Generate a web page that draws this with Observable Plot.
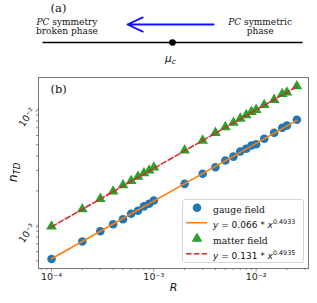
<!DOCTYPE html>
<html><head><meta charset="utf-8">
<script src="https://cdn.jsdelivr.net/npm/d3@7"></script>
<script src="https://cdn.jsdelivr.net/npm/@observablehq/plot@0.6"></script>
<style>
body{margin:0;background:#fff;width:317px;height:303px;overflow:hidden}
#wrap{position:relative;width:317px;height:303px}
#wrap svg{display:block}
#legend{position:absolute;left:182px;top:199px;width:122px;height:64px;border:1px solid #d6d6d6;border-radius:3px;background:rgba(255,255,255,0.85);box-sizing:border-box;padding-top:0px}
.row{position:relative;height:15.4px;display:flex;align-items:center}
.row svg{position:absolute;left:2px;top:0}
.row .lab{position:absolute;left:30px;top:1px;white-space:nowrap;line-height:14px}
.serif{font-family:"DejaVu Serif";font-size:9.2px;color:#111}
.math{font-family:"DejaVu Sans";font-size:9px;color:#111}
.math i{font-style:italic}
.math sup{font-size:6.4px;vertical-align:4px;line-height:0}
</style></head><body><div id="wrap"></div>
<script>
// ---------- data ----------
const gaugeR  = [1e-4,2e-4,3e-4,4e-4,5e-4,6e-4,7e-4,8e-4,9e-4,1e-3,2e-3,3e-3,4e-3,5e-3,6e-3,7e-3,8e-3,9e-3,1e-2,1.2e-2,1.5e-2,1.8e-2,2e-2,2.5e-2];
const gaugeN  = [5.18e-4,7.32e-4,8.98e-4,1.03e-3,1.14e-3,1.27e-3,1.35e-3,1.47e-3,1.55e-3,1.65e-3,2.30e-3,2.81e-3,3.20e-3,3.65e-3,3.95e-3,4.37e-3,4.61e-3,4.92e-3,5.05e-3,5.62e-3,6.33e-3,7.0e-3,7.32e-3,8.2e-3];
const matterR = [1e-4,2e-4,3e-4,4e-4,5e-4,6e-4,7e-4,8e-4,9e-4,1e-3,2e-3,3e-3,4e-3,5e-3,6e-3,7e-3,8e-3,9e-3,1e-2,1.2e-2,1.5e-2,1.8e-2,2e-2,2.5e-2];
const matterN = [9.86e-4,1.39e-3,1.71e-3,1.98e-3,2.24e-3,2.44e-3,2.65e-3,2.84e-3,3.00e-3,3.18e-3,4.46e-3,5.43e-3,6.33e-3,7.1e-3,7.73e-3,8.4e-3,9.0e-3,9.6e-3,1.0e-2,1.10e-2,1.22e-2,1.37e-2,1.41e-2,1.6e-2];
const gaugeFitR  = [1e-4, 2.5e-2];
const gaugeFitN  = [5.2e-4, 8.1e-3];
const matterFitR = [1e-4, 2.5e-2];
const matterFitN = [9.8e-4, 1.58e-2];
const xMajorTicks = [1e-4, 1e-3, 1e-2];
const xTickLabels = ["10⁻⁴", "10⁻³", "10⁻²"];
const yMajorTicks = [1e-3, 1e-2];
const yTickLabels = ["10⁻³", "10⁻²"];
const seriesNames = ["gauge field", "matter field"];
const fitCoef = ["0.066", "0.131"];
const fitExp = ["0.4933", "0.4935"];
const phaseLeft = "PC symmetry\nbroken phase";
const phaseRight = "PC symmetric\nphase";
const panelLabels = ["(a)", "(b)"];

const C = {blue:"#1f77b4", orange:"#ff7f0e", green:"#2ca02c", red:"#d62728"};
const gauge = gaugeR.map((r,i)=>({r, n:gaugeN[i]}));
const matter = matterR.map((r,i)=>({r, n:matterN[i]}));
const gaugeFit = gaugeFitR.map((r,i)=>({r, n:gaugeFitN[i]}));
const matterFit = matterFitR.map((r,i)=>({r, n:matterFitN[i]}));

function minorTicks(domain){
  const out=[]; const lo=Math.floor(Math.log10(domain[0])), hi=Math.ceil(Math.log10(domain[1]));
  for(let e=lo;e<hi;e++) for(let m=2;m<=9;m++){const v=m*Math.pow(10,e); if(v>=domain[0]&&v<=domain[1]) out.push(v);}
  return out;
}

const wrap = document.getElementById("wrap");

// ---------- panel (a) ----------
const serif = "DejaVu Serif";
const plotA = Plot.plot({
  width: 317, height: 70,
  marginLeft: 42, marginRight: 15, marginTop: 0, marginBottom: 0,
  x: {domain: [0, 1], axis: null},
  y: {domain: [0, 1], axis: null},
  style: {background: "white"},
  marks: [
    Plot.link([0], {x1: 0, x2: 1, y1: 0.4, y2: 0.4, stroke: "black", strokeWidth: 1.5}),
    Plot.dot([0.5], {x: d => d, y: 0.4, r: 3.3, fill: "black"}),
    Plot.arrow([0], {x1: 0.658, x2: 0.327, y1: 0.657, y2: 0.657, stroke: "#1010ff", strokeWidth: 1.8, headLength: 14, headAngle: 50}),
    Plot.text([phaseLeft], {x: 0.094, y: 0.63, text: d => d, fontFamily: serif, fontSize: 9, lineHeight: 1.05, fill: "#111"}),
    Plot.text([phaseRight], {x: 0.837, y: 0.63, text: d => d, fontFamily: serif, fontSize: 9, lineHeight: 1.05, fill: "#111"}),
    Plot.text([panelLabels[0]], {x: 0.031, y: 0.886, text: d => d, textAnchor: "start", fontFamily: serif, fontSize: 11.5, fill: "#111"}),
    Plot.text(["μ"], {x: 0.5, y: 0.171, text: d => d, fontFamily: "DejaVu Sans", fontStyle: "italic", fontSize: 10.5, dx: -2, fill: "#111"})
  ]
});
wrap.appendChild(plotA);

// rich text in panel (a)
d3.select(plotA).selectAll("text, tspan").each(function(){
  const el = d3.select(this);
  if (this.childNodes.length === 1 && this.firstChild.nodeType === 3) {
    const t = this.textContent;
    if (t.startsWith("PC ")) {
      el.text(null);
      el.append("tspan").attr("font-style","italic").text("PC");
      el.append("tspan").text(t.slice(2));
    } else if (t === "μ") {
      el.append("tspan").attr("font-size","7.5px").attr("dy","2.5").text("c");
    }
  }
});

// ---------- panel (b) ----------
const xDomain = [7.46e-5, 3.25e-2];
const yDomain = [4.285e-4, 1.898e-2];
const holder = document.createElement("div");
holder.style.position = "relative";
wrap.appendChild(holder);

const plotB = Plot.plot({
  width: 317, height: 233,
  marginTop: 7, marginBottom: 35, marginLeft: 38, marginRight: 9,
  x: {type: "log", domain: xDomain},
  y: {type: "log", domain: yDomain},
  style: {fontFamily: "DejaVu Sans", fontSize: "9px", color: "#222", background: "white"},
  marks: [
    Plot.axisX(minorTicks(xDomain), {tickSize: 2, tickFormat: () => "", label: null, stroke: "#888"}),
    Plot.axisX(xMajorTicks, {tickSize: 3.5, tickPadding: 1.5, tickFormat: d => xTickLabels[xMajorTicks.indexOf(d)], label: null, stroke: "#888", fontSize: 9.5}),
    Plot.axisY(minorTicks(yDomain), {tickSize: 2, tickFormat: () => "", label: null, stroke: "#888"}),
    Plot.axisY(yMajorTicks, {tickSize: 3.5, tickPadding: 2, dy: -1, tickFormat: d => yTickLabels[yMajorTicks.indexOf(d)], rotate: -55, label: null, stroke: "#888", fontSize: 9.5}),
    Plot.frame({stroke: "#777"}),
    Plot.dot(gauge, {x: "r", y: "n", r: 4.3, fill: C.blue}),
    Plot.line(gaugeFit, {x: "r", y: "n", stroke: C.orange, strokeWidth: 1.6}),
    Plot.dot(matter, {x: "r", y: "n", r: 4.0, symbol: "triangle", fill: C.green}),
    Plot.line(matterFit, {x: "r", y: "n", stroke: C.red, strokeWidth: 1.5, strokeDasharray: "5.5,2.4"}),
    Plot.text([panelLabels[1]], {frameAnchor: "top-left", dx: 12, dy: 7, text: d => d, fontFamily: serif, fontSize: 11.5, fill: "#111"}),
    Plot.text(["R"], {frameAnchor: "bottom", dy: 22, text: d => d, fontStyle: "italic", fontSize: 11, fill: "#111"})
  ]
});
holder.appendChild(plotB);

// y label n_TD
const yl = d3.select(plotB).append("text")
  .attr("transform", `translate(17,${7 + (233 - 7 - 35) / 2}) rotate(-90)`)
  .attr("text-anchor", "middle")
  .attr("font-family", "DejaVu Sans").attr("font-size", "12.5px").attr("fill", "#111");
yl.append("tspan").attr("font-style", "italic").text("n");
yl.append("tspan").attr("font-style", "italic").attr("font-size", "8.5px").attr("dy", "2.5").text("TD");

// legend
const legend = document.createElement("div");
legend.id = "legend";
legend.style.top = "129px";
const rows = [
  {kind: "circle", color: C.blue, html: `<span class="serif">${seriesNames[0]}</span>`},
  {kind: "line", color: C.orange, html: `<span class="math"><i>y</i> = ${fitCoef[0]} * <i>x</i><sup>${fitExp[0]}</sup></span>`},
  {kind: "triangle", color: C.green, html: `<span class="serif">${seriesNames[1]}</span>`},
  {kind: "dash", color: C.red, html: `<span class="math"><i>y</i> = ${fitCoef[1]} * <i>x</i><sup>${fitExp[1]}</sup></span>`}
];
for (const r of rows) {
  const row = document.createElement("div");
  row.className = "row";
  let sw = "";
  if (r.kind === "circle") sw = `<circle cx="12" cy="7.7" r="4.3" fill="${r.color}"/>`;
  if (r.kind === "triangle") sw = `<path transform="translate(12,7.7)" d="${d3.symbol(d3.symbolTriangle, Math.PI*16)()}" fill="${r.color}"/>`;
  if (r.kind === "line") sw = `<line x1="1" x2="22" y1="7.7" y2="7.7" stroke="${r.color}" stroke-width="1.6"/>`;
  if (r.kind === "dash") sw = `<line x1="1" x2="22" y1="7.7" y2="7.7" stroke="${r.color}" stroke-width="1.5" stroke-dasharray="5.5,2.4"/>`;
  row.innerHTML = `<svg width="26" height="15.4">${sw}</svg><span class="lab">${r.html}</span>`;
  legend.appendChild(row);
}
holder.appendChild(legend);
</script>
</body></html>
